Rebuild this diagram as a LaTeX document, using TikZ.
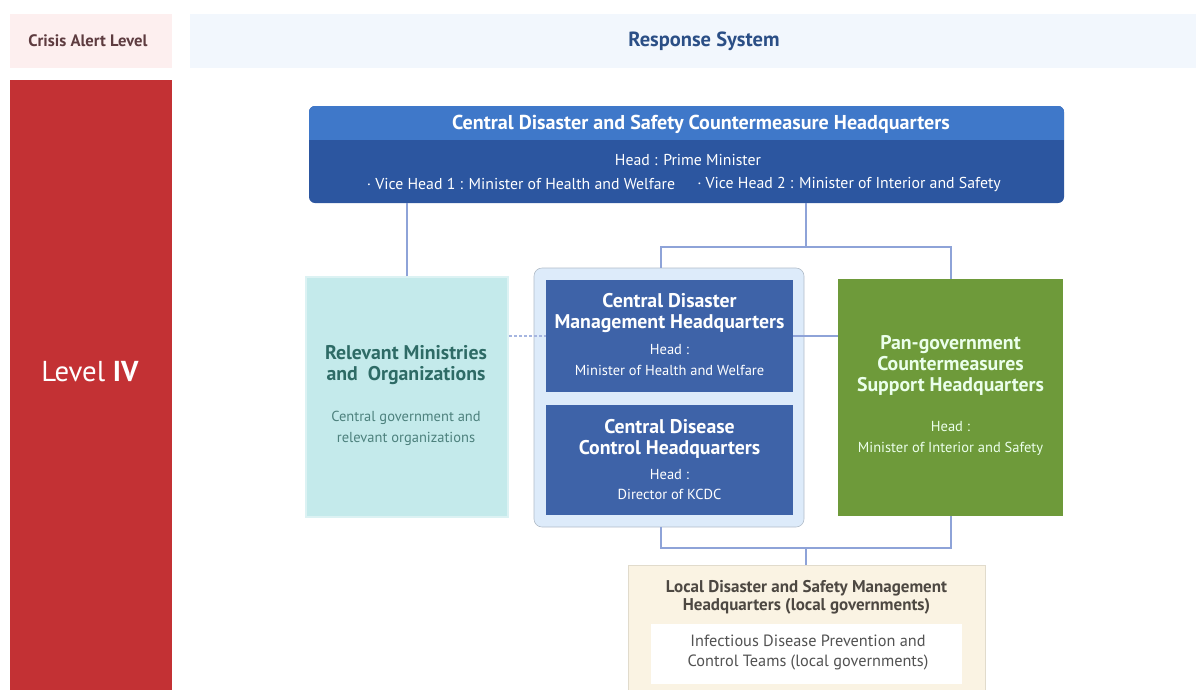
\documentclass[tikz,border=0pt]{standalone}
\usepackage{fontspec}
\setmainfont{PT Sans}
\usetikzlibrary{positioning}
\definecolor{alertred}{HTML}{C33134}
\definecolor{alertpink}{HTML}{FDEFEF}
\definecolor{alertink}{HTML}{5E3C40}
\definecolor{headerblue}{HTML}{F2F7FD}
\definecolor{headerink}{HTML}{2B4F86}
\definecolor{topband}{HTML}{3F78C9}
\definecolor{navyband}{HTML}{2C56A0}
\definecolor{hqblue}{HTML}{3E63A8}
\definecolor{groupblue}{HTML}{DDEBFA}
\definecolor{relevcyan}{HTML}{C4EAEB}
\definecolor{relevink}{HTML}{2E6B66}
\definecolor{pangreen}{HTML}{6E9A3A}
\definecolor{localbeige}{HTML}{FAF3E3}
\definecolor{localink}{HTML}{4D4842}
\definecolor{linkblue}{HTML}{8EA3D8}
\newcommand{\fsz}[2]{\fontsize{#1}{#2}\selectfont}

\tikzset{
  orgbox/.style={rectangle, inner sep=0pt, align=center},
  titletxt/.style={align=center, font=\bfseries\fsz{19.8}{21}, text=white},
  headtxt/.style={align=center, font=\fsz{14.5}{21}, text=white},
  link/.style={draw=linkblue, line width=2pt},
}

\begin{document}
\begin{tikzpicture}[x=1pt, y=-1pt]
  \useasboundingbox (0,0) rectangle (1196,689);
  % header row
  \node[orgbox, fill=alertpink, minimum width=162pt, minimum height=54pt] (alert) at (91,41) {};
  \node[font=\bfseries\fsz{16.6}{20}, text=alertink] (alerttxt) at (88,41) {Crisis Alert Level};
  \node[orgbox, fill=headerblue, minimum width=1006pt, minimum height=54pt] (respbar) at (693,41) {};
  \node[font=\bfseries\fsz{20.5}{24}, text=headerink] (resptxt) at (704,41) {Response System};
  % level bar
  \node[orgbox, fill=alertred, minimum width=162pt, minimum height=612pt] (levelbar) at (91,386) {};
  \node[font=\fsz{28.8}{32}, text=white] (leveltxt) at (90,372) {Level \textbf{IV}};
  % 1. Central Disaster and Safety Countermeasure Headquarters
  \node[orgbox, fill=navyband, rounded corners=6pt, minimum width=755pt, minimum height=97pt,
        path picture={\fill[topband, sharp corners] (path picture bounding box.north west)
          rectangle ([yshift=-34pt]path picture bounding box.north east);}] (cdsch) at (686.5,154.5) {};
  \node[titletxt, font=\bfseries\fsz{20.1}{24}] (cdschtitle) at (701,124) {Central Disaster and Safety Countermeasure Headquarters};
  \node[headtxt, font=\fsz{15.8}{20}] (cdschhead) at (688,160) {Head : Prime Minister};
  \node[headtxt, font=\fsz{15.8}{20}] (vice1) at (521,184) {· Vice Head 1 : Minister of Health and Welfare};
  \node[headtxt, font=\fsz{15.8}{20}] (vice2) at (849,184) {· Vice Head 2 : Minister of Interior and Safety};
  % 2. Relevant Ministries
  \node[orgbox, fill=relevcyan, draw=relevcyan!60!white, line width=1.5pt,
        minimum width=202pt, minimum height=240pt] (relev) at (407,397) {};
  \node[titletxt, text=relevink] (relevtitle) at (406,365) {Relevant Ministries\\and\ \ Organizations};
  \node[headtxt, text=relevink!85!white] (relevsub) at (406,428) {Central government and\\relevant organizations};
  % 3. central group
  \node[orgbox, fill=groupblue, draw=groupblue!80!black, line width=0.6pt, rounded corners=8pt,
        minimum width=270pt, minimum height=259pt] (hqgroup) at (669,397.5) {};
  \node[orgbox, fill=hqblue, minimum width=247pt, minimum height=112pt] (cdmh) at (669.5,336) {};
  \node[titletxt] (cdmhtitle) at (669.5,313.5) {Central Disaster\\Management Headquarters};
  \node[headtxt] (cdmhhead) at (669.5,360.5) {Head :\\Minister of Health and Welfare};
  \node[orgbox, fill=hqblue, minimum width=247pt, minimum height=110pt] (cdch) at (669.5,460) {};
  \node[titletxt] (cdchtitle) at (669.5,438.5) {Central Disease\\Control Headquarters};
  \node[headtxt, font=\fsz{14.5}{20}] (cdchhead) at (669.5,485) {Head :\\Director of KCDC};
  % 4. Pan-government support
  \node[orgbox, fill=pangreen, minimum width=225pt, minimum height=237pt] (pangov) at (950.5,397.5) {};
  \node[titletxt, text=white!92!green] (pantitle) at (950.5,365) {Pan-government\\Countermeasures\\Support Headquarters};
  \node[headtxt, text=white!92!green] (panhead) at (950.5,438.5) {Head :\\Minister of Interior and Safety};
  % 5. Local headquarters
  \node[orgbox, fill=localbeige, draw=localbeige!90!black, line width=0.6pt,
        minimum width=357pt, minimum height=127pt] (local) at (806.5,628.5) {};
  \node[titletxt, text=localink, font=\bfseries\fsz{17}{18}] (localtitle) at (806.5,597) {Local Disaster and Safety Management\\Headquarters (local governments)};
  \node[orgbox, fill=white, minimum width=311pt, minimum height=60pt] (idteam) at (806.5,654) {};
  \node[headtxt, text=black!68, font=\fsz{16.3}{20}] (idteamtxt) at (808,653) {Infectious Disease Prevention and\\Control Teams (local governments)};
  % connectors
  \coordinate (topbus) at (806,247);
  \coordinate (lowbus) at (806,548);
  \draw[link] (relev.north) -- (relev.north |- cdsch.south);
  \draw[link] (cdsch.south -| topbus) -- (topbus);
  \draw[link] ([xshift=-8pt]hqgroup.north) |- (topbus) -| (pangov.north);
  \draw[link, draw=linkblue!80!white, line width=1.5pt, dash pattern=on 3pt off 2pt] (cdmh.west -| relev.east) -- (cdmh.west);
  \draw[link, line width=1.5pt] (cdmh.east) -- (cdmh.east -| pangov.west);
  \draw[link] ([xshift=-8pt]hqgroup.south) |- (lowbus) -| (pangov.south);
  \draw[link] (lowbus) -- (lowbus |- local.north);
\end{tikzpicture}
\end{document}
